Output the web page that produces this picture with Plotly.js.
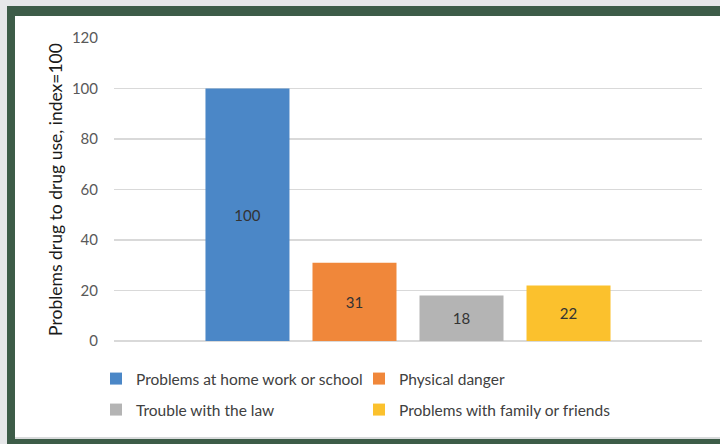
<!DOCTYPE html>
<html>
<head>
<meta charset="utf-8">
<script src="https://cdn.plot.ly/plotly-3.0.1.min.js"></script>
<style>
  html, body { margin: 0; padding: 0; background: #e6e7e9; }
  #frame { position: relative; width: 720px; height: 444px; background: #e6e7e9; overflow: hidden; }
  #green { position: absolute; left: 7px; top: 6px; width: 713px; height: 438px; background: #3d5c48; }
  #inner { position: absolute; left: 15px; top: 16px; width: 705px; height: 421px; background: #ffffff; border-bottom: 2px solid #d9dbdc; }
  #chart { position: absolute; left: 0; top: 0; width: 720px; height: 444px; }
</style>
</head>
<body>
<div id="frame">
  <div id="green"></div>
  <div id="inner"></div>
  <div id="chart"></div>
</div>
<script>
const category = ['All'];
const seriesNames = ['Problems at home work or school', 'Physical danger', 'Trouble with the law', 'Problems with family or friends'];
const seriesValues = [100, 31, 18, 22];
const seriesColors = ['#4B87C7', '#F0873A', '#B4B4B4', '#FBC12D'];
const legendIds = ['legend', 'legend', 'legend2', 'legend2'];
const yTicks = [0, 20, 40, 60, 80, 100, 120];
const yTitle = 'Problems drug to drug use, index=100';

const FONT = 'Lato, "Open Sans", sans-serif';

const traces = seriesNames.map((name, i) => ({
  type: 'bar',
  name: name,
  x: category,
  y: [seriesValues[i]],
  marker: { color: seriesColors[i] },
  text: [String(seriesValues[i])],
  texttemplate: '%{text}',
  textposition: 'inside',
  insidetextanchor: 'middle',
  textangle: 0,
  constraintext: 'none',
  textfont: { family: FONT, size: 15, color: '#333333' },
  hoverinfo: 'skip',
  legend: legendIds[i]
}));

const legendBase = {
  orientation: 'h',
  xref: 'container', yref: 'container',
  x: 96 / 720, xanchor: 'left',
  yanchor: 'middle',
  entrywidth: 218, entrywidthmode: 'pixels',
  bgcolor: 'rgba(0,0,0,0)',
  font: { family: FONT, size: 15.5, color: '#404040' },
  traceorder: 'normal'
};

const layout = {
  width: 720, height: 444,
  paper_bgcolor: 'rgba(0,0,0,0)',
  plot_bgcolor: 'rgba(0,0,0,0)',
  margin: { l: 114, r: 18, t: 38, b: 103, autoexpand: false },
  barmode: 'group',
  bargap: 0.272,
  bargroupgap: 0.215,
  showlegend: true,
  legend: Object.assign({}, legendBase, { y: 1 - 379 / 444 }),
  legend2: Object.assign({}, legendBase, { y: 1 - 410 / 444 }),
  xaxis: {
    showticklabels: false, showgrid: false, zeroline: false, showline: false, ticks: ''
  },
  yaxis: {
    range: [0, 120],
    tickvals: yTicks,
    ticktext: yTicks.map(String),
    showgrid: true, gridcolor: '#d9d9d9', gridwidth: 1.3,
    zeroline: true, zerolinecolor: '#d9d9d9', zerolinewidth: 1.3,
    showline: false, ticks: '',
    ticklabelstandoff: 15,
    tickfont: { family: FONT, size: 15, color: '#595959' },
    title: { text: yTitle, standoff: 4, font: { family: FONT, size: 17.5, color: '#1a1a1a' } },
    automargin: false
  }
};

Plotly.newPlot('chart', traces, layout, { displayModeBar: false, staticPlot: true });
</script>
</body>
</html>
